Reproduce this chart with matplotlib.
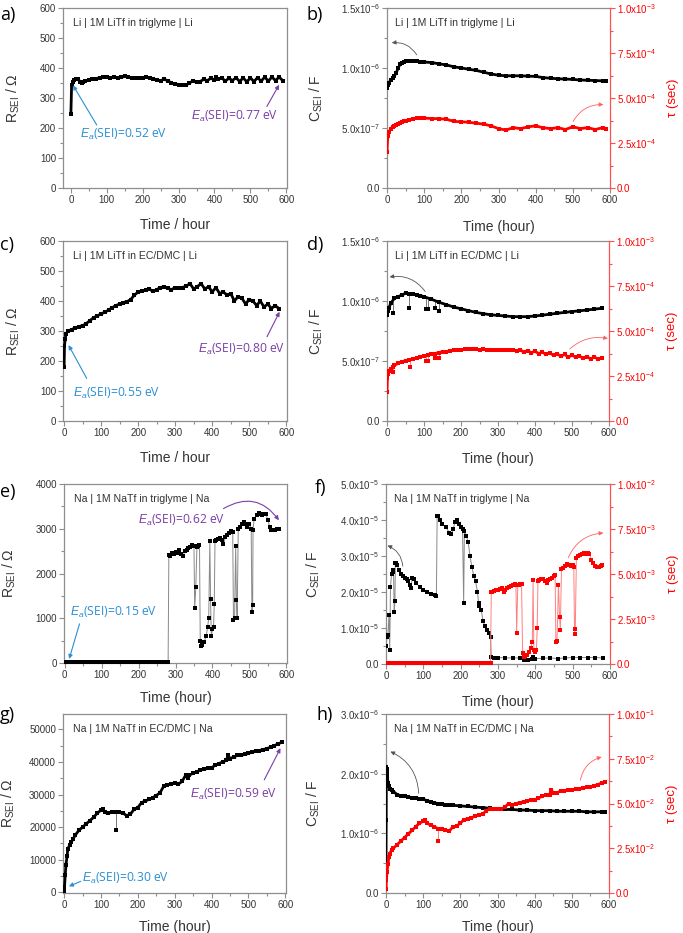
import numpy as np
import matplotlib
matplotlib.use('Agg')
import matplotlib.pyplot as plt
from matplotlib.ticker import MultipleLocator

plt.rcParams['font.family'] = ['Liberation Sans', 'DejaVu Sans']
plt.rcParams['mathtext.fontset'] = 'custom'
plt.rcParams['mathtext.rm'] = 'Liberation Sans'
plt.rcParams['mathtext.it'] = 'Liberation Sans:italic'
plt.rcParams['mathtext.default'] = 'regular'

GREY = '#8e8e8e'
TXT = '#333333'
RED = '#ff0000'
BLUE = '#2a8fd4'
PURPLE = '#7a3ea6'

# ---------------- data ----------------
# a) Li | LiTf triglyme : R_SEI (ohm)
a_t = [0, 2, 5, 10, 15, 20, 25, 30, 35, 40,
       50, 60, 70, 80, 90, 100, 110, 120, 130, 140, 150, 160, 170, 180, 190, 200,
       210, 220, 230, 240, 250, 260, 270, 280, 290, 300, 310, 320, 330, 340, 350,
       360, 370, 380, 390, 400, 405,
       410, 420, 430, 440, 450, 460, 470, 480, 490, 500, 510, 520, 530, 540, 550,
       560, 570, 580, 590]
a_r = [248, 345, 352, 360, 363, 362, 355, 350, 352, 358,
       360, 363, 365, 367, 370, 370, 368, 370, 368, 369, 372, 370, 368, 366, 368, 367,
       369, 366, 364, 360, 358, 362, 358, 350, 347, 345, 344, 342, 350, 357, 352,
       355, 362, 358, 366, 360, 370,
       362, 368, 356, 366, 358, 368, 355, 367, 354, 367, 355, 368, 356, 370, 356,
       370, 358, 370, 358]

# b) C_SEI (x1e-6 F) and tau (x1e-3 s)
b_t = [0, 2, 5, 10, 15, 20, 25, 30, 35, 40, 45, 50,
       60, 70, 80, 90, 100,
       120, 140, 160, 180, 200, 220, 240, 260, 280, 300, 320, 340, 360, 380, 400,
       420, 440, 460, 480, 500, 520, 540, 560, 580, 590]
b_c = [0.83, 0.86, 0.875, 0.90, 0.915, 0.935, 0.96, 1.0, 1.03, 1.045, 1.052, 1.055,
       1.055, 1.055, 1.055, 1.053, 1.05,
       1.045, 1.035, 1.025, 1.01, 1.0, 0.99, 0.98, 0.965, 0.95, 0.94, 0.935, 0.935,
       0.935, 0.932, 0.93, 0.92, 0.915, 0.91, 0.908, 0.905, 0.90, 0.898, 0.895,
       0.893, 0.893]
b_tau = [0.20, 0.29, 0.31, 0.33, 0.34, 0.345, 0.35, 0.355, 0.36, 0.365, 0.37, 0.375,
         0.38, 0.385, 0.388, 0.39, 0.388,
         0.386, 0.385, 0.382, 0.37, 0.368, 0.365, 0.36, 0.355, 0.345, 0.33, 0.322,
         0.335, 0.33, 0.34, 0.345, 0.335, 0.33, 0.335, 0.325, 0.34, 0.33, 0.335,
         0.325, 0.335, 0.33]

# c) Li | LiTf EC/DMC : R_SEI (ohm)
c_t = [0, 1, 3, 5,
       10, 20, 30, 40, 50, 60, 70, 80, 90, 100, 110, 120, 130, 140, 150, 160, 170,
       180, 190, 200, 210, 220, 230, 240, 250, 260, 270, 280, 290, 300, 310, 320,
       330, 340, 350, 360, 370, 380, 390, 400, 410, 420, 430, 440, 450, 460, 470,
       480, 490, 500, 510, 520, 530, 540, 550, 560, 570, 580]
c_r = [180, 250, 275, 290,
       300, 305, 310, 315, 318, 325, 335, 345, 350, 358, 362, 370, 378, 385, 390, 395,
       398, 405, 420, 430, 432, 437, 440, 432, 438, 445, 448, 442, 438, 445, 442, 445,
       450, 458, 440, 448, 458, 440, 448, 430, 445, 425, 430, 420, 425, 400, 415,
       410, 390, 405, 400, 385, 400, 380, 390, 375, 385, 375]

# d) C_SEI (x1e-6 F) and tau (x1e-3 s)
d_c_t = [0, 2, 5, 10, 20, 30, 40, 50, 60, 70, 80, 90, 100,
         120, 140, 160, 180, 200, 220, 240, 260, 280, 300, 320, 340, 360, 380, 400,
         420, 440, 460, 480, 500, 520, 540, 560, 580]
d_c = [0.883, 0.92, 0.94, 0.98, 1.022, 1.036, 1.05, 1.064, 1.062, 1.058, 1.052, 1.045,
       1.036, 1.015, 0.99, 0.97, 0.95, 0.935, 0.92, 0.905, 0.895, 0.885, 0.88, 0.875,
       0.87, 0.869, 0.87, 0.875, 0.882, 0.89, 0.898, 0.905, 0.912, 0.918, 0.925,
       0.932, 0.939]
d_c_dip_t = [15, 60, 105, 110, 130, 140]
d_c_dip = [0.90, 0.94, 0.93, 0.93, 0.94, 0.92]
d_tau_t = [0, 1, 3, 5, 10, 15,
           20, 30, 40, 50, 60, 70, 80, 90, 100, 110, 120, 130, 140, 150, 160, 170,
           180, 190, 200, 210, 220, 230, 240, 250, 260, 270, 280, 290, 300, 310, 320,
           330, 340, 350, 360, 370, 380, 390, 400, 410, 420, 430, 440, 450, 460, 470,
           480, 490, 500, 510, 520, 530, 540, 550, 560, 570, 580]
d_tau = [0.16, 0.24, 0.26, 0.28, 0.29, 0.30,
         0.31, 0.32, 0.33, 0.335, 0.34, 0.345, 0.35, 0.355, 0.36, 0.365, 0.37, 0.375,
         0.38, 0.385, 0.385, 0.39, 0.392, 0.395, 0.397, 0.398, 0.40, 0.40, 0.398,
         0.395, 0.398, 0.396, 0.395, 0.393, 0.394, 0.392, 0.392, 0.395, 0.396, 0.39,
         0.393, 0.385, 0.39, 0.38, 0.387, 0.375, 0.382, 0.37, 0.378, 0.365, 0.372,
         0.36, 0.37, 0.355, 0.365, 0.355, 0.36, 0.35, 0.358, 0.345, 0.355, 0.345, 0.35]
d_tau_dip_t = [17, 61, 105, 110, 130, 140]
d_tau_dip = [0.27, 0.30, 0.335, 0.335, 0.35, 0.35]

# e) Na | NaTf triglyme : R_SEI (ohm)
e_t = [0, 10, 20, 30, 40, 50, 60, 70, 80, 90, 100, 110, 120, 130, 140, 150, 160,
       170, 180, 190, 200, 210, 220, 230, 240, 250, 260, 270, 280,
       282, 285, 290, 295, 300, 305, 310, 315, 320, 325, 330, 335, 340, 345, 350,
       352, 355, 358, 362, 365, 367, 370, 373, 378, 383, 387, 390, 393, 395, 397,
       400, 403, 405, 407, 410, 415, 420, 425, 430, 435, 440, 445, 450, 455, 457,
       460, 463, 465, 467, 470, 475, 480, 485, 490, 495, 500, 505, 507, 509, 510,
       513, 520, 525, 530, 535, 540, 545, 550, 555, 560, 565, 570, 575, 580]
e_r = [15, 15, 18, 15, 15, 16, 15, 15, 17, 15, 15, 16, 15, 15, 15, 17, 15,
       15, 16, 15, 15, 15, 17, 15, 15, 16, 15, 15, 15,
       2420, 2400, 2460, 2440, 2480, 2450, 2520, 2430, 2380, 2500, 2530, 2560, 2600,
       2640, 2620, 1220, 1700, 2600, 2620, 2640, 500, 370, 400, 480, 600, 800, 1000,
       2720, 1420, 600, 750, 800, 1320, 2720, 2740, 2760, 2800, 2750, 2650, 2820,
       2850, 2900, 2950, 2920, 950, 1000, 2620, 1400, 1000, 3000, 3050, 3100, 3150,
       3100, 3050, 3100, 3000, 1130, 1300, 2980, 3220, 3300, 3350, 3320, 3300, 3320,
       3330, 3200, 3050, 2980, 2980, 2980, 3000, 3000]

# f) C_SEI (x1e-5 F) and tau (x1e-3 s)
f_c_t = [0, 3, 5, 8, 10, 12, 15, 18, 20, 22, 24, 25, 28, 30, 35, 40, 45, 50, 55, 60,
         65, 67, 70, 75, 80, 90, 100, 110, 120, 130, 135, 137, 140, 145, 150, 160,
         170, 175, 180, 185, 190, 195, 200, 205, 208, 210, 215, 220, 225, 230, 235,
         240, 245, 248, 250, 255, 260, 265, 270, 275, 280, 282, 290, 300, 320, 340,
         360, 370, 380, 390, 395, 400, 420, 440, 460, 480, 500, 520, 540, 560, 580]
f_c = [0.5, 0.75, 0.8, 1.35, 0.38, 2.15, 2.5, 2.55, 2.6, 1.45, 1.75, 2.8, 2.8, 2.75,
       2.6, 2.5, 2.45, 2.4, 2.35, 2.3, 2.2, 2.1, 2.4, 2.35, 2.25, 2.15, 2.05, 2.0,
       1.95, 1.92, 1.9, 4.12, 4.1, 4.0, 3.9, 3.8, 3.65, 3.6, 3.75, 3.95, 4.0, 3.9,
       3.8, 3.75, 1.7, 3.7, 3.55, 3.4, 3.0, 2.7, 2.45, 2.3, 2.0, 1.7, 1.6, 1.5, 1.2,
       1.05, 0.95, 0.85, 0.75, 0.2, 0.18, 0.18, 0.17, 0.17, 0.17, 0.12, 0.12, 0.15,
       0.2, 0.15, 0.16, 0.17, 0.15, 0.17, 0.18, 0.18, 0.18, 0.18, 0.17]
f_tau_t = [0, 10, 20, 30, 40, 50, 60, 70, 80, 90, 100, 110, 120, 130, 140, 150, 160,
           170, 180, 190, 200, 210, 220, 230, 240, 250, 260, 270, 280,
           282, 285, 290, 295, 300, 305, 310, 315, 320, 325, 330, 335, 340, 345, 348,
           350, 353, 356, 360, 363, 366, 370, 373, 378, 383, 388, 392, 394, 396, 400,
           403, 405, 407, 410, 415, 420, 425, 430, 435, 440, 445, 450, 453, 455, 458,
           462, 465, 467, 470, 475, 480, 485, 490, 495, 500, 503, 505, 507, 510, 515,
           520, 525, 530, 535, 540, 545, 550, 555, 560, 565, 570, 575, 578]
f_tau = [0.07, 0.07, 0.07, 0.06, 0.06, 0.07, 0.07, 0.07, 0.07, 0.06, 0.06, 0.07,
         0.07, 0.07, 0.07, 0.07, 0.07, 0.06, 0.06, 0.07, 0.07, 0.07, 0.07, 0.07,
         0.07, 0.06, 0.06, 0.07, 0.07,
         4.0, 4.0, 4.05, 4.1, 4.1, 4.15, 4.2, 4.0, 4.1, 4.2, 4.3, 4.35, 4.4, 4.45, 4.4,
         1.75, 4.4, 4.4, 4.45, 4.45, 0.6, 0.4, 0.45, 0.5, 0.65, 0.9, 1.2, 4.65, 0.8,
         0.65, 0.8, 2.0, 4.6, 4.65, 4.7, 4.75, 4.6, 4.5, 4.65, 4.75, 4.8, 4.9, 4.95,
         1.25, 1.3, 4.4, 2.6, 1.9, 5.3, 5.35, 5.45, 5.55, 5.5, 5.45, 5.5, 5.4, 1.65,
         1.95, 5.9, 6.0, 6.05, 6.1, 6.15, 6.1, 6.15, 6.1, 5.8, 5.6, 5.45, 5.4, 5.4,
         5.45, 5.5]

# g) Na | NaTf EC/DMC : R_SEI (ohm)
g_t = [0, 1, 3, 5, 8, 10, 15, 20, 25, 30, 40, 50, 60, 70, 80, 90, 100, 105, 110, 120,
       130, 140, 150, 160, 170, 180, 190, 200, 210, 220, 230, 240, 250, 260, 270, 280,
       290, 300, 310, 320, 330, 335, 340, 350, 360, 370, 380, 390, 400, 410, 420, 430,
       440, 445, 450, 460, 470, 480, 490, 500, 510, 520, 530, 540, 550, 560, 570,
       580, 590]
g_r = [300, 1500, 5300, 8500, 11000, 13300, 14500, 15500, 16500, 17500, 19000, 20000,
       21000, 22000, 23000, 24300, 25200, 25700, 24500, 24200, 24700, 24500, 24500,
       24300, 23500, 24000, 25500, 26000, 27500, 28000, 28500, 29000, 29700, 30500,
       32500, 33000, 33200, 33500, 33200, 34000, 36000, 35000, 36000, 36500, 37000,
       37500, 37800, 38000, 38200, 39000, 39500, 40000, 40500, 42000, 41000, 41500,
       42000, 42000, 42300, 42600, 43000, 43200, 43500, 43800, 44100, 44500, 45000,
       45500, 46000]
g_dip_t = [141]
g_dip = [19000]

# h) C_SEI (x1e-6 F) and tau (s)
h_c_t = [0, 0.5, 1, 2, 3, 5, 8, 10, 15, 20, 30, 40, 50, 60, 70, 80, 90, 100, 110,
         120, 130, 140, 150, 160, 170, 180, 200, 220, 240, 260, 280, 300, 320, 340,
         360, 380, 400, 420, 440, 460, 480, 500, 520, 540, 560, 580, 590]
h_c = [0.5, 1.22, 2.12, 1.95, 2.08, 1.85, 1.8, 1.75, 1.72, 1.7, 1.65, 1.63, 1.62,
       1.61, 1.6, 1.6, 1.58, 1.57, 1.55, 1.53, 1.51, 1.5, 1.49, 1.48, 1.48, 1.47,
       1.46, 1.45, 1.44, 1.43, 1.42, 1.41, 1.40, 1.40, 1.39, 1.39, 1.38, 1.38, 1.38,
       1.37, 1.37, 1.37, 1.37, 1.36, 1.36, 1.36, 1.36]
h_tau_t = [0, 1, 3, 5, 8, 10, 15, 20, 30, 40, 50, 60, 70, 80, 90, 100, 105, 110, 120,
           130, 140, 143, 150, 160, 170, 180, 190, 200, 210, 220, 230, 240, 250, 260,
           270, 280, 290, 300, 310, 320, 330, 340, 350, 360, 370, 380, 390, 400, 410,
           420, 430, 440, 445, 450, 460, 470, 480, 490, 500, 510, 520, 530, 540, 550,
           560, 570, 580, 590]
h_tau = [0.002, 0.007, 0.012, 0.016, 0.020, 0.022, 0.024, 0.025, 0.027, 0.029, 0.031,
         0.033, 0.035, 0.037, 0.039, 0.040, 0.041, 0.039, 0.038, 0.037, 0.036, 0.036,
         0.036, 0.035, 0.0345, 0.037, 0.0375, 0.039, 0.041, 0.0415, 0.042, 0.043,
         0.0435, 0.044, 0.046, 0.047, 0.047, 0.047, 0.047, 0.048, 0.050, 0.049, 0.050,
         0.0505, 0.051, 0.0515, 0.052, 0.052, 0.053, 0.054, 0.055, 0.055, 0.0575,
         0.056, 0.056, 0.057, 0.057, 0.0575, 0.0575, 0.058, 0.058, 0.0585, 0.059,
         0.059, 0.060, 0.0605, 0.0615, 0.062]
h_tau_dip_t = [141]
h_tau_dip = [0.029]

# tick labels
x_ticks = [0, 100, 200, 300, 400, 500, 600]
r600_ticks = [0, 100, 200, 300, 400, 500, 600]
e_ticks = [0, 1000, 2000, 3000, 4000]
g_ticks = [0, 10000, 20000, 30000, 40000, 50000]
c15_ticks = [0, 5e-7, 1e-6, 1.5e-6]
c15_labels = ['0.0', '5.0x10$^{-7}$', '1.0x10$^{-6}$', '1.5x10$^{-6}$']
tau1_ticks = [0, 2.5e-4, 5e-4, 7.5e-4, 1e-3]
tau1_labels = ['0.0', '2.5x10$^{-4}$', '5.0x10$^{-4}$', '7.5x10$^{-4}$', '1.0x10$^{-3}$']
f_c_ticks = [0, 1e-5, 2e-5, 3e-5, 4e-5, 5e-5]
f_c_labels = ['0.0', '1.0x10$^{-5}$', '2.0x10$^{-5}$', '3.0x10$^{-5}$',
              '4.0x10$^{-5}$', '5.0x10$^{-5}$']
f_tau_ticks = [0, 2.5e-3, 5e-3, 7.5e-3, 1e-2]
f_tau_labels = ['0.0', '2.5x10$^{-3}$', '5.0x10$^{-3}$', '7.5x10$^{-3}$', '1.0x10$^{-2}$']
h_c_ticks = [0, 1e-6, 2e-6, 3e-6]
h_c_labels = ['0.0', '1.0x10$^{-6}$', '2.0x10$^{-6}$', '3.0x10$^{-6}$']
h_tau_ticks = [0, 2.5e-2, 5e-2, 7.5e-2, 1e-1]
h_tau_labels = ['0.0', '2.5x10$^{-2}$', '5.0x10$^{-2}$', '7.5x10$^{-2}$', '1.0x10$^{-1}$']

# ---------------- figure ----------------
W, H = 683, 933
fig = plt.figure(figsize=(W / 100, H / 100), dpi=100)


def add_ax(x0, y0, x1, y1):
    return fig.add_axes([x0 / W, 1 - y1 / H, (x1 - x0) / W, (y1 - y0) / H])


def frame(ax, xlim, ylim, yticks, ylabels, yminor, xlabel, ylabel, lx, ly):
    ax.set_xlim(xlim)
    ax.set_ylim(ylim)
    ax.set_xticks(x_ticks)
    ax.xaxis.set_minor_locator(MultipleLocator(50))
    ax.set_yticks(yticks, ylabels)
    ax.yaxis.set_minor_locator(MultipleLocator(yminor))
    for s in ax.spines.values():
        s.set_color(GREY)
        s.set_linewidth(0.9)
    ax.tick_params(which='both', direction='out', color=GREY, labelcolor=TXT,
                   labelsize=7, width=0.8, pad=1.5)
    ax.tick_params(which='major', length=3.5)
    ax.tick_params(which='minor', length=2)
    ax.set_xlabel(xlabel, fontsize=10, color=TXT)
    ax.xaxis.set_label_coords(0.5, ly)
    ax.set_ylabel(ylabel, fontsize=10, color=TXT)
    ax.yaxis.set_label_coords(lx, 0.5)


def twin(ax, ylim, yticks, ylabels, yminor):
    ax2 = ax.twinx()
    ax2.set_ylim(ylim)
    ax2.set_yticks(yticks, ylabels)
    ax2.yaxis.set_minor_locator(MultipleLocator(yminor))
    for k in ['left', 'top', 'bottom']:
        ax2.spines[k].set_visible(False)
    ax2.spines['right'].set_color('#ff5050')
    ax2.spines['right'].set_linewidth(0.9)
    ax.spines['right'].set_visible(False)
    ax2.tick_params(which='both', direction='out', color='#ff5050', labelcolor=RED,
                    labelsize=7, width=0.8, pad=1.5)
    ax2.tick_params(which='major', length=3.5)
    ax2.tick_params(which='minor', length=2)
    ax2.set_ylabel('τ (sec)', fontsize=9.5, color=RED)
    ax2.yaxis.set_label_coords(1.255, 0.5)
    return ax2


def thick(ax, t, v, col, scale=1.0):
    v = np.array(v) * scale
    ax.plot(t, v, '-', color=col, lw=2.0, zorder=3)
    ax.plot(t, v, 's', color=col, ms=2.6, mew=0, zorder=3)


def thin(ax, t, v, col, lcol, scale=1.0):
    v = np.array(v) * scale
    ax.plot(t, v, '-', color=lcol, lw=0.7, zorder=2)
    ax.plot(t, v, 's', color=col, ms=2.3, mew=0, zorder=3)


def dips(ax, t, v, td, vd, col, lcol, scale=1.0):
    base = np.interp(td, t, np.array(v) * scale)
    vd = np.array(vd) * scale
    ax.vlines(td, base, vd, color=lcol, lw=0.7, zorder=2)
    ax.plot(td, vd, 's', color=col, ms=2.3, mew=0, zorder=3)


def label(ax, s, x=0.045, y=0.915):
    ax.text(x, y, s, transform=ax.transAxes, fontsize=7.6, color=TXT, va='center')


def arrow(ax, head, tail, col, rad=0.0, lw=0.8):
    ax.annotate('', xy=head, xytext=tail,
                arrowprops=dict(arrowstyle='-|>', color=col, lw=lw, mutation_scale=6,
                                shrinkA=0, shrinkB=0,
                                connectionstyle='arc3,rad=%s' % rad))


def ea(ax, x, y, s, col):
    ax.text(x, y, r'$\mathit{E_a}$' + s, color=col, fontsize=8.7, va='center',
            ha='left', family='Open Sans')


def panel(s, x, y):
    fig.text(x / W, 1 - y / H, s, fontsize=13, family='Open Sans', va='center',
             ha='left', color='black')


RL = 'R$_{SEI}$ / Ω'
CL = 'C$_{SEI}$ / F'

# a
ax = add_ax(63, 8, 287, 188)
thick(ax, a_t, a_r, 'black')
frame(ax, (-22, 602), (0, 600), r600_ticks, [str(v) for v in r600_ticks], 50,
      'Time / hour', RL, -0.183, -0.165)
label(ax, 'Li | 1M LiTf in triglyme | Li')
arrow(ax, (6, 342), (72, 210), BLUE)
ea(ax, 25, 180, '(SEI)=0.52 eV', BLUE)
arrow(ax, (580, 344), (546, 272), PURPLE)
ea(ax, 335, 240, '(SEI)=0.77 eV', PURPLE)
panel('a)', 0, 15)

# b
ax = add_ax(387, 8, 610, 188)
thick(ax, b_t, b_c, 'black', 1e-6)
frame(ax, (0, 600), (0, 1.5e-6), c15_ticks, c15_labels, 2.5e-7,
      'Time (hour)', CL, -0.278, -0.175)
label(ax, 'Li | 1M LiTf in triglyme | Li', 0.036)
arrow(ax, (13, 1.21e-6), (80, 1.11e-6), '#555555', 0.3, 0.6)
ax2 = twin(ax, (0, 1e-3), tau1_ticks, tau1_labels, 1.25e-4)
thick(ax2, b_t, b_tau, RED, 1e-3)
arrow(ax2, (582, 0.463e-3), (501, 0.37e-3), '#ff6060', -0.3, 0.6)
panel('b)', 307, 15)

# c
ax = add_ax(63, 241, 287, 421)
thick(ax, c_t, c_r, 'black')
frame(ax, (-3, 602), (0, 600), r600_ticks, [str(v) for v in r600_ticks], 50,
      'Time / hour', RL, -0.183, -0.165)
label(ax, 'Li | 1M LiTf in EC/DMC | Li')
arrow(ax, (12, 253), (61, 142), BLUE)
ea(ax, 25, 93, '(SEI)=0.55 eV', BLUE)
arrow(ax, (582, 364), (548, 281), PURPLE)
ea(ax, 362, 240, '(SEI)=0.80 eV', PURPLE)
panel('c)', 0, 245)

# d
ax = add_ax(387, 241, 609, 421)
thick(ax, d_c_t, d_c, 'black', 1e-6)
dips(ax, d_c_t, d_c, d_c_dip_t, d_c_dip, 'black', '#777777', 1e-6)
frame(ax, (0, 600), (0, 1.5e-6), c15_ticks, c15_labels, 2.5e-7,
      'Time (hour)', CL, -0.278, -0.175)
label(ax, 'Li | 1M LiTf in EC/DMC | Li', 0.036)
arrow(ax, (7, 1.2e-6), (103, 1.08e-6), '#555555', 0.3, 0.6)
ax2 = twin(ax, (0, 1e-3), tau1_ticks, tau1_labels, 1.25e-4)
thick(ax2, d_tau_t, d_tau, RED, 1e-3)
dips(ax2, d_tau_t, d_tau, d_tau_dip_t, d_tau_dip, RED, '#ff8080', 1e-3)
arrow(ax2, (597, 0.458e-3), (494, 0.40e-3), '#ff6060', -0.25, 0.6)
panel('d)', 307, 245)

# e
ax = add_ax(64, 484, 287, 663)
thin(ax, e_t, e_r, 'black', '#888888')
frame(ax, (-2, 602), (0, 4000), e_ticks, [str(v) for v in e_ticks], 500,
      'Time (hour)', RL, -0.205, -0.155)
label(ax, 'Na | 1M NaTf in triglyme | Na')
arrow(ax, (12, 90), (40, 875), BLUE)
ea(ax, 13, 1120, '(SEI)=0.15 eV', BLUE)
arrow(ax, (580, 3190), (430, 3450), PURPLE, -0.45)
ea(ax, 198, 3190, '(SEI)=0.62 eV', PURPLE)
panel('e)', 0, 492)

# f
ax = add_ax(386, 484, 610, 664)
thin(ax, f_c_t, f_c, 'black', '#888888', 1e-5)
frame(ax, (0, 600), (0, 5e-5), f_c_ticks, f_c_labels, 5e-6,
      'Time (hour)', CL, -0.285, -0.17)
label(ax, 'Na | 1M NaTf in triglyme | Na', 0.036)
arrow(ax, (4, 3.29e-5), (45, 2.72e-5), '#555555', 0.3, 0.6)
ax2 = twin(ax, (0, 1e-2), f_tau_ticks, f_tau_labels, 1.25e-3)
thin(ax2, f_tau_t, f_tau, RED, '#ff8080', 1e-3)
arrow(ax2, (582, 7.28e-3), (488, 5.9e-3), '#ff6060', -0.3, 0.6)
panel('f)', 315, 488)

# g
ax = add_ax(63, 714, 286, 893)
thick(ax, g_t, g_r, 'black')
dips(ax, g_t, g_r, g_dip_t, g_dip, 'black', '#777777')
frame(ax, (-3, 602), (-200, 54700), g_ticks, [str(v) for v in g_ticks], 5000,
      'Time (hour)', RL, -0.205, -0.15)
label(ax, 'Na | 1M NaTf in EC/DMC | Na')
arrow(ax, (13, 1840), (45, 3370), BLUE)
ea(ax, 49, 4200, '(SEI)=0.30 eV', BLUE)
arrow(ax, (587, 44200), (543, 34500), PURPLE)
ea(ax, 342, 29900, '(SEI)=0.59 eV', PURPLE)
panel('g)', 0, 715)

# h
ax = add_ax(386, 714, 609, 893)
thick(ax, h_c_t, h_c, 'black', 1e-6)
frame(ax, (0, 600), (0, 3e-6), h_c_ticks, h_c_labels, 5e-7,
      'Time (hour)', CL, -0.285, -0.15)
label(ax, 'Na | 1M NaTf in EC/DMC | Na', 0.036)
arrow(ax, (12, 2.37e-6), (88, 1.67e-6), '#555555', 0.3, 0.6)
ax2 = twin(ax, (0, 0.1), h_tau_ticks, h_tau_labels, 0.0125)
thick(ax2, h_tau_t, h_tau, RED)
dips(ax2, h_tau_t, h_tau, h_tau_dip_t, h_tau_dip, RED, '#ff8080')
arrow(ax2, (580, 0.076), (523, 0.063), '#ff6060', -0.3, 0.6)
panel('h)', 316, 715)

fig.savefig('out.png', dpi=100)
